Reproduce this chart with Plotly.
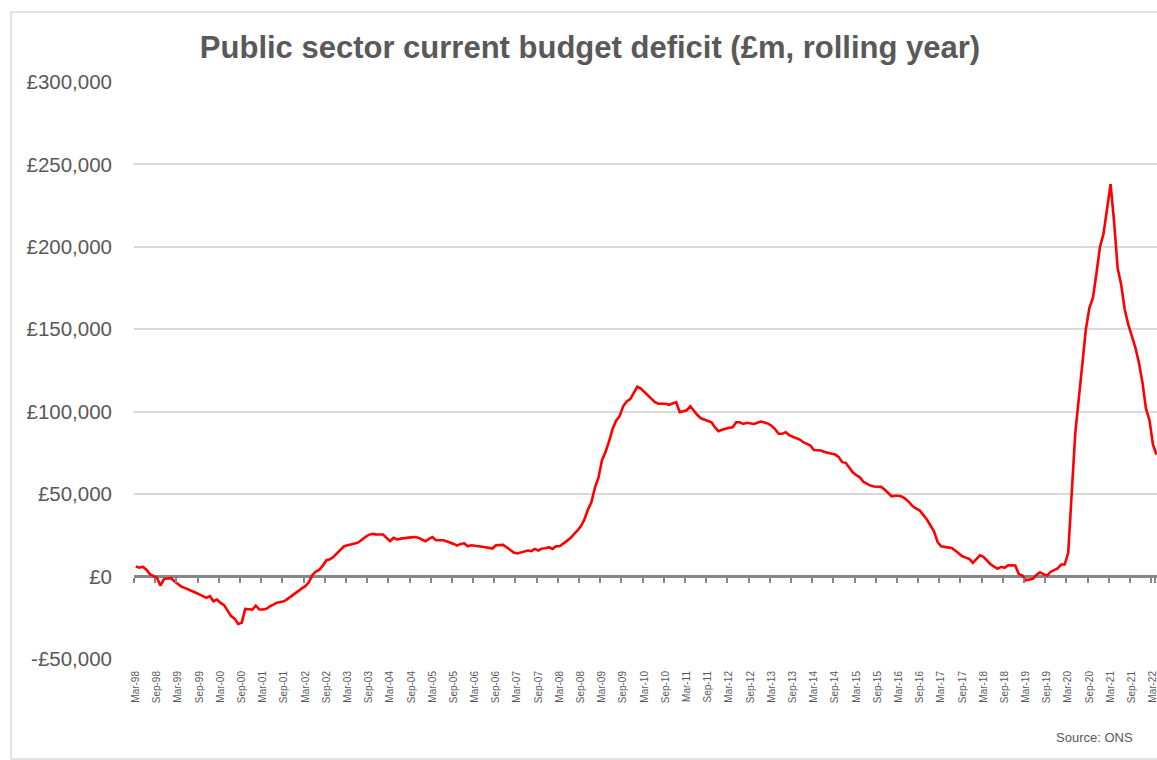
import pandas as pd
import plotly.graph_objects as go

# Public sector current budget deficit, £m, rolling 12-month sum (ONS)
# One list per calendar year; series starts Mar-98 and ends Apr-22.
y1998 = [6200, 5400, 6000, 4200, 1500, 300, -800, -5500, -1500, -1200]
y1999 = [-1000, -3000, -4800, -6200, -7000, -7800, -8600, -9800, -10800, -11800, -12900, -11900]
y2000 = [-15000, -14000, -16000, -17300, -20500, -24000, -25500, -28700, -28000, -19600, -19800, -20000]
y2001 = [-17600, -20000, -20000, -19600, -18000, -16800, -15800, -15400, -15000, -13500, -12000, -10800]
y2002 = [-8800, -7200, -5800, -3500, 1000, 3000, 4200, 6800, 9900, 10500, 12000, 14200]
y2003 = [16500, 18400, 19000, 19400, 20000, 20700, 22500, 24000, 25300, 25900, 25600, 25600]
y2004 = [25500, 23500, 21400, 23500, 22500, 23000, 23400, 23600, 23800, 24000, 23600, 22500]
y2005 = [21400, 22800, 24000, 22000, 22100, 22000, 21400, 20800, 19800, 18800, 19800, 20200]
y2006 = [18400, 19000, 18800, 18600, 18400, 17800, 17400, 17000, 19000, 19300, 19200, 17800]
y2007 = [16000, 14600, 14000, 14600, 15200, 15800, 15400, 16800, 15800, 17000, 17200, 17800]
y2008 = [16800, 18400, 18400, 19800, 21500, 23200, 25200, 27800, 30500, 34500, 40500, 45000]
y2009 = [54000, 60000, 70600, 75500, 82000, 89500, 94500, 97300, 103300, 106200, 107600, 111500]
y2010 = [115100, 114000, 112000, 109800, 107500, 105800, 104800, 104800, 104800, 104200, 105000, 105800]
y2011 = [99700, 100200, 100900, 103300, 100300, 98000, 96000, 95200, 94200, 93600, 90500, 88200]
y2012 = [89000, 89800, 90300, 90600, 93600, 93600, 92600, 93300, 92800, 92600, 93300, 94000]
y2013 = [93400, 92800, 91500, 89500, 86600, 86600, 87600, 85800, 84800, 83800, 83100, 81500]
y2014 = [80300, 79500, 76800, 76700, 76500, 75600, 75000, 74500, 74000, 72600, 69400, 69000]
y2015 = [65800, 63200, 61500, 60200, 57500, 56300, 55200, 54600, 54400, 54400, 52800, 50500]
y2016 = [48700, 49000, 49000, 48400, 47000, 45000, 42600, 41200, 40000, 37300, 34600, 31000]
y2017 = [27500, 21000, 18300, 18000, 17600, 17400, 15800, 13800, 12300, 11500, 10700, 8300]
y2018 = [10500, 12900, 12000, 9500, 7500, 6000, 4700, 5900, 5300, 6900, 6700, 6700]
y2019 = [1500, 700, -2200, -1800, -1300, 1000, 2600, 1500, 600, 2800, 3800, 5000]
y2020 = [7300, 7300, 14400, 52000, 87000, 108000, 131000, 150000, 163000, 169000, 184000, 200000]
y2021 = [208000, 222000, 238000, 215000, 187000, 177000, 162000, 153000, 146000, 139000, 130000, 118000]
y2022 = [102000, 95000, 80000, 74000]

deficit = (y1998 + y1999 + y2000 + y2001 + y2002 + y2003 + y2004 + y2005 + y2006 + y2007
           + y2008 + y2009 + y2010 + y2011 + y2012 + y2013 + y2014 + y2015 + y2016 + y2017
           + y2018 + y2019 + y2020 + y2021 + y2022)

months = pd.date_range("1998-03-01", periods=len(deficit), freq="MS")
month_labels = list(months.strftime("%b-%y"))
x_tick_labels = month_labels[::6]

y_tick_values = [-50000, 0, 50000, 100000, 150000, 200000, 250000, 300000]
y_tick_text = ["-£50,000", "£0", "£50,000", "£100,000", "£150,000", "£200,000", "£250,000", "£300,000"]

W, H = 1157, 760
M_L, M_R, M_T, M_B = 134, 0, 82, 101
PW, PH = W - M_L - M_R, H - M_T - M_B
X_RANGE = [-0.5, -0.5 + PW / 3.532]
Y_RANGE = [-50000, 300000]

GREY_TEXT = "#595959"
FONT = "Liberation Sans, Arial, sans-serif"

fig = go.Figure()
fig.add_trace(go.Scatter(
    x=month_labels, y=deficit, mode="lines",
    line=dict(color="#FF0000", width=2.6),
    showlegend=False, hoverinfo="x+y",
))
# carrier trace for the tick axis that sits on the zero line
fig.add_trace(go.Scatter(
    x=month_labels, y=deficit, xaxis="x2", mode="lines",
    line=dict(width=0), opacity=0, showlegend=False, hoverinfo="skip",
))

axis_common = dict(
    type="category", categoryorder="array", categoryarray=month_labels,
    range=X_RANGE, tickmode="array", tickvals=x_tick_labels,
    showgrid=False, zeroline=False, fixedrange=True,
)

fig.update_layout(
    width=W, height=H,
    margin=dict(l=M_L, r=M_R, t=M_T, b=M_B),
    paper_bgcolor="white", plot_bgcolor="white",
    font=dict(family=FONT, color=GREY_TEXT),
    title=dict(
        text="<b>Public sector current budget deficit (£m, rolling year)</b>",
        x=590 / W, xanchor="center", xref="container",
        y=1 - 47 / H, yanchor="middle", yref="container",
        font=dict(family=FONT, size=31, color=GREY_TEXT),
    ),
    xaxis=dict(
        **axis_common,
        ticktext=x_tick_labels, tickangle=-90, ticks="",
        showline=False, ticklabelstandoff=9,
        tickfont=dict(size=10, color=GREY_TEXT),
    ),
    xaxis2=dict(
        **axis_common,
        overlaying="x", anchor="free",
        position=(0 - Y_RANGE[0]) / (Y_RANGE[1] - Y_RANGE[0]),
        tickson="boundaries", ticks="outside", ticklen=5, tickwidth=2,
        tickcolor="#868686", showticklabels=False, showline=False,
    ),
    yaxis=dict(
        range=Y_RANGE, tickmode="array", tickvals=y_tick_values, ticktext=y_tick_text,
        showgrid=True, gridcolor="#D9D9D9", gridwidth=1.5,
        zeroline=True, zerolinecolor="#868686", zerolinewidth=2.5,
        ticks="", ticklabelstandoff=21, showline=False,
        tickfont=dict(size=20.5, color=GREY_TEXT), fixedrange=True,
    ),
    annotations=[dict(
        text="Source: ONS", xref="paper", yref="paper",
        x=(1135 - M_L) / PW, y=(H - M_B - 737) / PH,
        xanchor="right", yanchor="middle", showarrow=False,
        font=dict(family=FONT, size=13, color=GREY_TEXT),
    )],
    shapes=[dict(
        type="rect", xref="paper", yref="paper", layer="below",
        x0=(11 - M_L) / PW, x1=(W + 20 - M_L) / PW,
        y0=(H - M_B - 759) / PH, y1=(H - M_B - 12) / PH,
        line=dict(color="#D9D9D9", width=1.5), fillcolor="rgba(0,0,0,0)",
    )],
)

fig.write_html("out.html")
